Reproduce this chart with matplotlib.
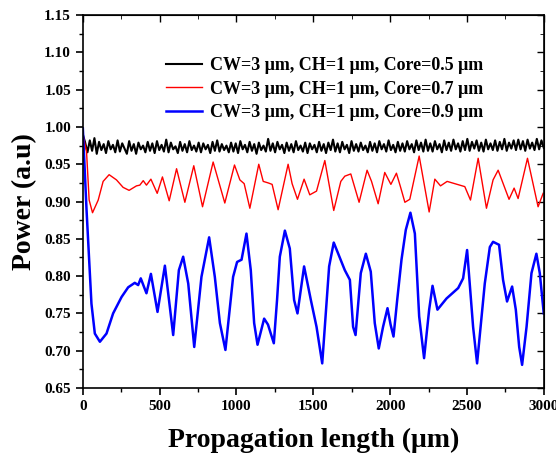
import matplotlib.pyplot as plt
import numpy as np

plt.rcParams['font.family'] = ['Liberation Serif', 'DejaVu Serif']
plt.rcParams['font.weight'] = 'bold'

# Core = 0.5 um: flat, noisy trace around 0.973
black_power = [
    0.990, 0.979, 0.966, 0.982, 0.968, 0.985, 0.964, 0.980, 0.969, 0.977,
    0.965, 0.981, 0.970, 0.976, 0.966, 0.982, 0.967, 0.978, 0.971, 0.964,
    0.981, 0.968, 0.977, 0.964, 0.979, 0.970, 0.975, 0.966, 0.980, 0.968,
    0.978, 0.965, 0.981, 0.969, 0.976, 0.967, 0.983, 0.966, 0.979, 0.970,
    0.974, 0.965, 0.980, 0.968, 0.977, 0.966, 0.981, 0.969, 0.975, 0.967,
    0.979, 0.966, 0.978, 0.970, 0.976, 0.965, 0.980, 0.968, 0.982, 0.967,
    0.977, 0.969, 0.975, 0.966, 0.979, 0.967, 0.978, 0.965, 0.981, 0.970,
    0.976, 0.966, 0.980, 0.968, 0.977, 0.964, 0.979, 0.969, 0.975, 0.967,
    0.984, 0.968, 0.978, 0.966, 0.980, 0.970, 0.976, 0.965, 0.979, 0.968,
    0.977, 0.966, 0.981, 0.969, 0.975, 0.967, 0.979, 0.965, 0.978, 0.970,
    0.976, 0.966, 0.980, 0.968, 0.977, 0.965, 0.979, 0.969, 0.983, 0.967,
    0.978, 0.966, 0.980, 0.970, 0.976, 0.965, 0.981, 0.968, 0.977, 0.967,
    0.979, 0.969, 0.975, 0.966, 0.980, 0.968, 0.978, 0.966, 0.981, 0.970,
    0.977, 0.967, 0.982, 0.969, 0.976, 0.966, 0.980, 0.968, 0.978, 0.967,
    0.981, 0.970, 0.977, 0.966, 0.982, 0.969, 0.979, 0.967, 0.983, 0.968,
    0.978, 0.967, 0.981, 0.970, 0.977, 0.966, 0.982, 0.969, 0.979, 0.968,
    0.983, 0.970, 0.978, 0.967, 0.981, 0.969, 0.984, 0.968, 0.980, 0.971,
    0.982, 0.968, 0.979, 0.967, 0.983, 0.970, 0.978, 0.969, 0.982, 0.968,
    0.980, 0.970, 0.984, 0.968, 0.979, 0.971, 0.982, 0.969, 0.983, 0.970,
    0.981, 0.968, 0.983, 0.971, 0.979, 0.969, 0.984, 0.970, 0.982, 0.972,
]
black_len = np.linspace(0, 3000, len(black_power))

# Core = 0.7 um
red_len = [0, 24, 41, 63, 100, 132, 171, 219, 262, 301, 349, 371, 393, 414,
           443, 484, 518, 562, 610, 664, 722, 779, 848, 924, 987, 1022, 1050,
           1087, 1145, 1174, 1206, 1232, 1271, 1336, 1362, 1397, 1440, 1477,
           1521, 1575, 1633, 1679, 1705, 1744, 1798, 1850, 1879, 1922, 1965,
           2005, 2041, 2067, 2096, 2128, 2189, 2254, 2291, 2328, 2371, 2486,
           2523, 2573, 2627, 2670, 2703, 2774, 2807, 2833, 2894, 2963, 2996]
red_power = [0.990, 0.967, 0.902, 0.885, 0.902, 0.927, 0.936, 0.929, 0.919,
             0.915, 0.921, 0.922, 0.928, 0.922, 0.930, 0.911, 0.933, 0.901,
             0.944, 0.899, 0.948, 0.893, 0.953, 0.898, 0.949, 0.929, 0.924,
             0.891, 0.950, 0.927, 0.925, 0.923, 0.889, 0.950, 0.924, 0.903,
             0.930, 0.909, 0.914, 0.955, 0.888, 0.927, 0.934, 0.937, 0.899,
             0.942, 0.927, 0.897, 0.939, 0.923, 0.938, 0.920, 0.899, 0.903,
             0.961, 0.886, 0.930, 0.921, 0.927, 0.920, 0.902, 0.958, 0.891,
             0.929, 0.942, 0.903, 0.918, 0.904, 0.958, 0.893, 0.911]

# Core = 0.9 um
blue_len = [0, 24, 41, 56, 78, 111, 154, 197, 252, 295, 338, 360, 377, 414,
            443, 486, 534, 588, 625, 653, 686, 725, 772, 822, 859, 892, 928,
            978, 1004, 1033, 1065, 1093, 1115, 1137, 1180, 1205, 1243, 1264,
            1282, 1315, 1347, 1375, 1397, 1440, 1484, 1521, 1558, 1603, 1633,
            1705, 1738, 1759, 1775, 1809, 1842, 1874, 1900, 1926, 1954, 1983,
            2003, 2022, 2046, 2074, 2102, 2132, 2161, 2189, 2221, 2254, 2276,
            2308, 2367, 2443, 2475, 2501, 2540, 2566, 2616, 2649, 2670, 2709,
            2735, 2761, 2794, 2818, 2840, 2859, 2888, 2920, 2952, 2974, 3000]
blue_power = [0.998, 0.889, 0.822, 0.763, 0.723, 0.712, 0.723, 0.750, 0.772,
              0.785, 0.791, 0.788, 0.797, 0.777, 0.803, 0.752, 0.814, 0.721,
              0.808, 0.826, 0.790, 0.705, 0.799, 0.852, 0.799, 0.737, 0.701,
              0.799, 0.819, 0.822, 0.857, 0.808, 0.737, 0.708, 0.743, 0.735,
              0.710, 0.768, 0.826, 0.861, 0.837, 0.768, 0.750, 0.813, 0.768,
              0.732, 0.683, 0.813, 0.845, 0.808, 0.795, 0.732, 0.721, 0.804,
              0.830, 0.806, 0.737, 0.703, 0.732, 0.757, 0.735, 0.719, 0.768,
              0.822, 0.862, 0.885, 0.857, 0.746, 0.690, 0.755, 0.787, 0.755,
              0.770, 0.784, 0.797, 0.835, 0.732, 0.683, 0.790, 0.839, 0.846,
              0.842, 0.795, 0.766, 0.786, 0.755, 0.705, 0.681, 0.732, 0.804,
              0.830, 0.804, 0.750]

labels = ['CW=3 μm, CH=1 μm, Core=0.5 μm',
          'CW=3 μm, CH=1 μm, Core=0.7 μm',
          'CW=3 μm, CH=1 μm, Core=0.9 μm']

fig = plt.figure(figsize=(5.56, 4.57), dpi=100)
ax = fig.add_axes([0.149, 0.151, 0.829, 0.816])

ax.plot(black_len, black_power, color='black', lw=1.5, label=labels[0])
ax.plot(red_len, red_power, color='red', lw=1.0, label=labels[1])
ax.plot(blue_len, blue_power, color='blue', lw=1.8, label=labels[2])

ax.set_xlim(0, 3000)
ax.set_ylim(0.65, 1.15)
ax.set_xticks(np.arange(0, 3001, 500))
ax.set_xticks(np.arange(0, 3001, 250), minor=True)
ax.set_yticks(np.arange(0.65, 1.151, 0.05))
ax.set_yticks(np.arange(0.65, 1.151, 0.025), minor=True)
ax.yaxis.set_major_formatter(plt.FormatStrFormatter('%.2f'))
ax.tick_params(direction='out', width=1.2, length=5, labelsize=11)
ax.tick_params(which='minor', direction='out', width=1.0, length=3)
for lbl in ax.get_xticklabels() + ax.get_yticklabels():
    lbl.set_fontweight('bold')
for sp in ax.spines.values():
    sp.set_linewidth(1.2)

# inward ticks on top and right
top = ax.secondary_xaxis('top')
top.set_xticks(np.arange(0, 3001, 500))
top.set_xticks(np.arange(0, 3001, 250), minor=True)
top.tick_params(direction='in', length=5, width=1.0, labeltop=False)
top.tick_params(which='minor', direction='in', length=3)
right = ax.secondary_yaxis('right')
right.set_yticks(np.arange(0.65, 1.151, 0.05))
right.set_yticks(np.arange(0.65, 1.151, 0.025), minor=True)
right.tick_params(direction='in', length=5, width=1.0, labelright=False)
right.tick_params(which='minor', direction='in', length=3)

ax.set_xlabel('Propagation length (μm)', fontsize=20, fontweight='bold', labelpad=11)
ax.set_ylabel('Power (a.u)', fontsize=20, fontweight='bold', labelpad=5)

leg = ax.legend(loc='upper left', bbox_to_anchor=(0.145, 0.93), frameon=False,
                handlelength=2.0, handletextpad=0.45, labelspacing=0.35,
                prop={'weight': 'bold', 'size': 13})

fig.savefig('out.png', dpi=100)
